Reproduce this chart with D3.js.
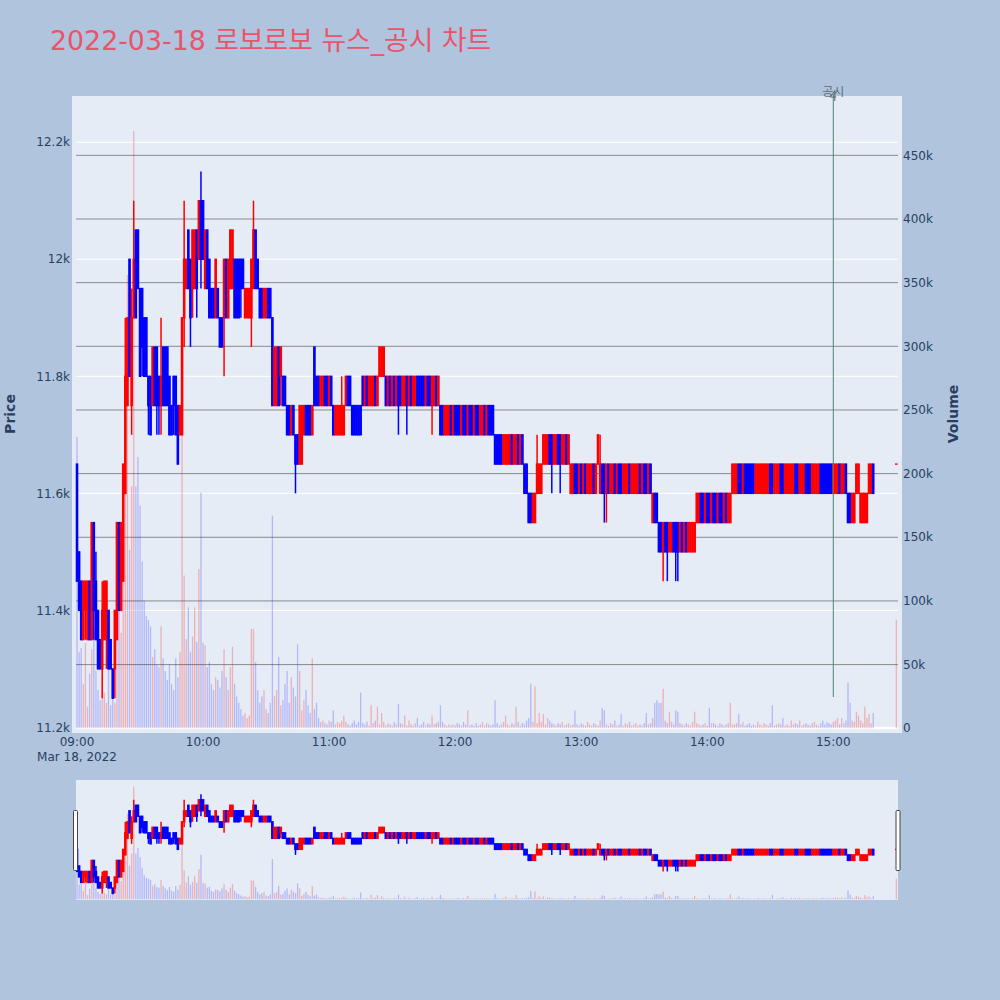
<!DOCTYPE html>
<html><head><meta charset="utf-8">
<script src="https://cdn.jsdelivr.net/npm/d3@7"></script>
<style>
html,body{margin:0;padding:0;background:#b0c4de;}
svg{display:block;font-family:"DejaVu Sans","Noto Sans CJK KR",sans-serif;}
</style></head><body>
<svg id="chart" width="1000" height="1000"></svg>
<script>
// ---------------- DATA ----------------
const titleText = "2022-03-18 로보로보 뉴스_공시 차트";
const sessionDate = "2022-03-18";
const sessionStart = "09:00";   // first 1-minute candle; each following value is the next minute

const open = [
11650,11500,11450,11350,11400,11350,11450,11350,11550,11450,
11400,11350,11300,11350,11350,11400,11350,11300,11300,11350,
11550,11400,11450,11600,11750,12000,11750,11900,12050,12050,
11950,11950,11900,11900,11800,11800,11750,11850,11850,11800,
11750,11850,11850,11850,11800,11750,11800,11800,11750,11700,
11700,11900,11950,12050,12000,11950,11950,12050,12000,12100,
12100,11950,12050,12000,11950,11950,11900,11950,11900,11900,
11900,12000,11900,11950,11950,12000,12000,12000,12000,12000,
11900,11900,11900,11900,11950,12050,12000,11950,11950,11900,
11900,11950,11950,11900,11750,11750,11850,11800,11800,11800,
11750,11750,11700,11750,11700,11700,11650,11650,11700,11750,
11750,11750,11700,11850,11800,11800,11750,11750,
11800,11800,11750,11800,11750,11700,11700,11700,11700,11700,
11750,11800,11800,11750,11750,11750,11750,11750,11800,11750,
11800,11750,11750,11750,11800,11750,11800,11800,11800,11800,
11750,11800,11750,11800,11750,11800,11800,11750,11750,11800,
11750,11800,11750,11750,11800,11800,11800,11800,11750,11800,
11800,11750,11750,11800,11750,11750,11750,11700,11700,11700,
11750,11700,11750,11750,11750,11700,11750,11750,11700,11750,
11750,11700,11750,11750,11700,11700,11750,11700,11750,11750,
11750,11700,11700,11700,11700,11650,11650,11650,11650,11700,
11650,11650,11700,11650,11700,11650,11650,11600,11600,11550,
11550,11600,11600,11600,11650,11650,11650,11700,11700,11650,
11650,11700,11700,11650,11650,11700,11650,11600,11600,11650,
11650,11600,11650,11600,11650,11600,11600,11600,11650,11600,
11650,11600,11650,11650,11600,11650,11600,11600,11650,11600,
11650,11650,11600,11600,11600,11650,11600,11600,11600,11600,
11650,11600,11650,11650,11600,11650,11550,11600,11600,11550,
11550,11500,11550,11550,11500,11500,11550,11550,11550,11500,
11550,11500,11550,11500,11500,11500,11500,11550,11550,11600,
11600,11550,11600,11600,11550,11600,11600,11550,11600,11600,
11550,11600,11550,11550,11600,11600,11600,11650,11650,11600,
11650,11650,11650,11650,11650,11600,11600,11600,11600,11600,
11600,11600,11650,11650,11600,11600,11600,11650,11650,11600,
11600,11600,11600,11600,11650,11650,11600,11600,11600,11650,
11650,11650,11600,11600,11600,11600,11650,11650,11650,11650,
11650,11650,11600,11600,11600,11650,11600,11600,11650,11600,
11600,11550,11550,11600,11600,11550,11550,11550,11550,11600,11600,11650
];
const high = [
11650,11500,11450,11450,11450,11450,11450,11550,11550,11500,
11400,11350,11450,11450,11450,11400,11350,11300,11400,11550,
11550,11550,11650,11900,11900,12000,11950,12100,12050,12050,
11950,11950,11900,11900,11800,11800,11850,11850,11850,11800,
11900,11850,11850,11850,11800,11750,11800,11800,11750,11750,
11900,12100,12000,12050,12000,12050,12050,12050,12100,12150,
12100,12050,12050,12000,11950,11950,12000,11950,11900,11900,
12000,12000,12000,12050,12050,12000,12000,12000,12000,12000,
11950,11950,11950,12000,12100,12050,12000,11950,11950,11950,
11950,11950,11950,11900,11850,11850,11850,11850,11800,11800,
11750,11750,11750,11750,11700,11700,11750,11750,11750,11750,
11750,11750,11750,11850,11800,11800,11800,11800,
11800,11800,11800,11800,11750,11750,11750,11750,11800,11750,
11800,11800,11800,11750,11750,11750,11750,11750,11800,11800,
11800,11800,11800,11800,11800,11800,11850,11850,11850,11800,
11800,11800,11800,11800,11800,11800,11800,11800,11800,11800,
11800,11800,11800,11800,11800,11800,11800,11800,11800,11800,
11800,11800,11800,11800,11800,11750,11750,11750,11750,11750,
11750,11750,11750,11750,11750,11750,11750,11750,11750,11750,
11750,11750,11750,11750,11750,11750,11750,11750,11750,11750,
11750,11700,11700,11700,11700,11700,11700,11700,11700,11700,
11700,11700,11700,11700,11700,11650,11650,11600,11600,11600,
11600,11700,11650,11650,11700,11700,11700,11700,11700,11700,
11700,11700,11700,11700,11700,11700,11700,11650,11650,11650,
11650,11650,11650,11650,11650,11650,11650,11650,11650,11650,
11700,11700,11650,11650,11650,11650,11650,11650,11650,11650,
11650,11650,11650,11650,11650,11650,11650,11650,11650,11650,
11650,11650,11650,11650,11650,11650,11600,11600,11600,11550,
11550,11550,11550,11550,11550,11550,11550,11550,11550,11550,
11550,11550,11550,11550,11550,11550,11550,11600,11600,11600,
11600,11600,11600,11600,11600,11600,11600,11600,11600,11600,
11600,11600,11600,11600,11650,11650,11650,11650,11650,11650,
11650,11650,11650,11650,11650,11650,11650,11650,11650,11650,
11650,11650,11650,11650,11650,11650,11650,11650,11650,11650,
11650,11650,11650,11650,11650,11650,11650,11650,11650,11650,
11650,11650,11650,11650,11650,11650,11650,11650,11650,11650,
11650,11650,11650,11650,11650,11650,11650,11650,11650,11600,
11600,11600,11600,11650,11650,11600,11600,11600,11600,11650,11650,11650
];
const low = [
11450,11400,11350,11350,11350,11350,11350,11350,11350,11350,
11300,11300,11250,11350,11300,11300,11300,11250,11250,11350,
11400,11400,11450,11600,11750,11800,11700,11900,11900,11950,
11800,11800,11800,11800,11700,11700,11750,11750,11700,11700,
11700,11750,11750,11750,11700,11700,11700,11700,11650,11700,
11700,11850,11950,11950,11850,11900,11950,11900,12000,11950,
12000,11950,11950,11900,11900,11900,11900,11900,11850,11850,
11800,11900,11900,11950,11950,11900,11900,11900,11900,11950,
11900,11900,11900,11850,11950,11950,11950,11900,11900,11900,
11900,11900,11900,11750,11750,11750,11750,11750,11750,11750,
11700,11700,11700,11700,11600,11650,11650,11650,11700,11700,
11700,11700,11700,11750,11750,11750,11750,11750,
11750,11750,11750,11750,11700,11700,11700,11700,11700,11700,
11750,11750,11750,11700,11700,11700,11700,11700,11750,11750,
11750,11750,11750,11750,11750,11750,11800,11800,11800,11750,
11750,11750,11750,11750,11750,11700,11750,11750,11750,11700,
11750,11750,11750,11750,11750,11750,11750,11750,11750,11750,
11750,11700,11750,11750,11750,11700,11700,11700,11700,11700,
11700,11700,11700,11700,11700,11700,11700,11700,11700,11700,
11700,11700,11700,11700,11700,11700,11700,11700,11700,11700,
11700,11650,11650,11650,11650,11650,11650,11650,11650,11650,
11650,11650,11650,11650,11650,11600,11600,11550,11550,11550,
11550,11600,11600,11600,11650,11650,11650,11650,11600,11650,
11650,11650,11600,11650,11650,11650,11650,11600,11600,11600,
11600,11600,11600,11600,11600,11600,11600,11600,11600,11600,
11650,11600,11600,11550,11550,11600,11600,11600,11600,11600,
11600,11600,11600,11600,11600,11600,11600,11600,11600,11600,
11600,11600,11600,11600,11600,11600,11550,11550,11550,11500,
11500,11450,11500,11450,11500,11500,11500,11450,11450,11500,
11500,11500,11500,11500,11500,11500,11500,11550,11550,11550,
11550,11550,11550,11550,11550,11550,11550,11550,11550,11550,
11550,11550,11550,11550,11600,11600,11600,11600,11600,11600,
11600,11600,11600,11600,11600,11600,11600,11600,11600,11600,
11600,11600,11600,11600,11600,11600,11600,11600,11600,11600,
11600,11600,11600,11600,11600,11600,11600,11600,11600,11600,
11600,11600,11600,11600,11600,11600,11600,11600,11600,11600,
11600,11600,11600,11600,11600,11600,11600,11600,11600,11550,
11550,11550,11550,11600,11600,11550,11550,11550,11550,11600,11600,11600
];
const close = [
11450,11400,11350,11450,11450,11450,11350,11550,11400,11350,
11300,11300,11400,11450,11450,11300,11300,11250,11400,11550,
11400,11550,11650,11800,11900,11800,11900,12000,11900,11950,
11800,11850,11800,11800,11750,11700,11850,11750,11750,11750,
11800,11750,11750,11750,11700,11700,11750,11700,11650,11750,
11900,12000,12000,11950,11900,12050,12050,11950,12100,12000,
12000,12050,11950,11900,11900,11900,12000,11900,11850,11850,
12000,11900,12000,12050,12050,11900,11900,11900,11950,11950,
11950,11950,11950,12000,12050,11950,11950,11900,11900,11950,
11950,11900,11900,11750,11850,11850,11750,11850,11750,11750,
11700,11700,11750,11700,11650,11650,11750,11750,11750,11700,
11700,11700,11750,11750,11750,11750,11800,11800,
11750,11750,11800,11750,11700,11750,11750,11750,11750,11750,
11800,11750,11750,11700,11700,11700,11700,11700,11750,11800,
11750,11800,11800,11800,11750,11800,11850,11850,11850,11750,
11800,11750,11800,11750,11800,11750,11750,11800,11800,11750,
11800,11750,11800,11800,11750,11750,11750,11750,11800,11750,
11750,11800,11800,11750,11800,11700,11700,11750,11750,11750,
11700,11750,11700,11700,11700,11750,11700,11700,11750,11700,
11700,11750,11700,11700,11750,11750,11700,11750,11700,11700,
11700,11650,11650,11650,11650,11700,11700,11700,11700,11650,
11700,11700,11650,11700,11650,11600,11600,11550,11550,11600,
11600,11650,11650,11650,11700,11700,11700,11650,11650,11700,
11700,11650,11650,11700,11700,11650,11700,11650,11650,11600,
11600,11650,11600,11650,11600,11650,11650,11650,11600,11650,
11700,11650,11600,11600,11650,11600,11650,11650,11600,11650,
11600,11600,11650,11650,11650,11600,11650,11650,11650,11650,
11600,11650,11600,11600,11650,11600,11600,11550,11550,11500,
11500,11550,11500,11500,11550,11550,11500,11500,11500,11550,
11500,11550,11500,11550,11550,11550,11550,11600,11600,11550,
11550,11600,11550,11550,11600,11550,11550,11600,11550,11550,
11600,11550,11600,11600,11650,11650,11650,11600,11600,11650,
11600,11600,11600,11600,11600,11650,11650,11650,11650,11650,
11650,11650,11600,11600,11650,11650,11650,11600,11600,11650,
11650,11650,11650,11650,11600,11600,11650,11650,11650,11600,
11600,11600,11650,11650,11650,11650,11600,11600,11600,11600,
11600,11600,11650,11650,11650,11600,11650,11650,11600,11550,
11550,11600,11600,11650,11650,11600,11600,11600,11600,11650,11650,11600
];
const volume = [
229000,60000,63000,35000,67000,17000,43000,62000,78000,45000,
30000,22000,40000,28000,20000,58000,18000,35000,20000,70000,
92000,75000,160000,320000,356000,140000,190000,469000,190000,213000,
175000,131000,100000,88000,85000,80000,56000,62000,50000,48000,
80000,55000,45000,38000,50000,35000,30000,55000,40000,60000,
230000,120000,70000,95000,60000,72000,95000,68000,125000,185000,
67000,65000,48000,52000,35000,30000,40000,38000,32000,45000,
62000,40000,30000,48000,64000,35000,25000,20000,15000,10000,
12000,8000,10000,78000,78000,52000,30000,20000,25000,30000,
15000,12000,20000,167000,25000,30000,56000,18000,22000,35000,
45000,20000,40000,32000,25000,66000,45000,14000,22000,30000,
18000,12000,55000,15000,20000,8000,5000,6000,
4000,3000,6000,5000,14000,3000,5000,4000,6000,10000,
5000,3000,2000,4000,6000,3000,5000,28000,4000,3000,
5000,2000,18000,4000,6000,17000,3000,12000,5000,2000,
4000,3000,2000,5000,3000,19000,4000,3000,10000,2000,
6000,3000,2000,4000,8000,2000,3000,5000,2000,4000,
3000,10000,3000,4000,5000,18000,5000,3000,2000,3000,
2000,3000,2000,4000,3000,2000,5000,3000,14000,2000,
3000,2000,4000,2000,3000,5000,2000,4000,3000,2000,
3000,22000,4000,2000,3000,5000,10000,3000,2000,4000,
3000,17000,5000,2000,4000,3000,6000,8000,35000,5000,
33000,4000,12000,5000,11000,3000,8000,6000,4000,3000,
2000,4000,3000,5000,2000,3000,4000,2000,3000,14000,
3000,2000,4000,3000,2000,5000,3000,2000,4000,3000,
2000,6000,16000,14000,3000,2000,4000,3000,6000,2000,
3000,11000,2000,4000,3000,5000,2000,3000,4000,2000,
3000,2000,4000,12000,3000,4000,8000,20000,22000,20000,
20000,31000,6000,4000,13000,5000,3000,14000,13000,4000,
3000,2000,4000,3000,2000,5000,13000,4000,3000,2000,
3000,4000,2000,16000,4000,4000,3000,2000,4000,3000,
2000,3000,4000,20000,3000,3000,4000,11000,3000,5000,
2000,3000,4000,2000,3000,2000,5000,3000,2000,4000,
3000,2000,4000,18000,2000,3000,4000,3000,8000,2000,
3000,2000,6000,3000,4000,3000,6000,2000,3000,4000,
3000,2000,4000,5000,3000,2000,4000,6000,3000,5000,
4000,3000,5000,6000,8000,3000,8000,4000,6000,36000,
20000,6000,5000,13000,10000,6000,4000,17000,8000,11000,4000,12000
];
// closing single-price auction
const auctionTime = ["15:30"];
const auctionOpen = [11650];
const auctionHigh = [11650];
const auctionLow = [11650];
const auctionClose = [11650];
const auctionVolume = [85000];

const priceTicks = [11200, 11400, 11600, 11800, 12000, 12200];
const volumeTicks = [0, 50000, 100000, 150000, 200000, 250000, 300000, 350000, 400000, 450000];
const hourTicks = ["09:00", "10:00", "11:00", "12:00", "13:00", "14:00", "15:00"];
const dateLabel = "Mar 18, 2022";
const eventTime = "15:00";
const eventLabel = "공시";

// ---------------- CHART ----------------
const svg = d3.select("#chart");
const parseT = d3.timeParse("%Y-%m-%d %H:%M");
const t0 = parseT(sessionDate + " " + sessionStart);
const rows = open.map((o, i) => ({t: d3.timeMinute.offset(t0, i), o, h: high[i], l: low[i], c: close[i], v: volume[i]}));
auctionTime.forEach((s, j) => rows.push({t: parseT(sessionDate + " " + s), o: auctionOpen[j], h: auctionHigh[j], l: auctionLow[j], c: auctionClose[j], v: auctionVolume[j]}));
const colorOf = d => d.c < d.o ? "blue" : "red";

svg.append("rect").attr("width", 1000).attr("height", 1000).attr("fill", "#b0c4de");

const x = d3.scaleTime()
  .domain([d3.timeSecond.offset(t0, -29), d3.timeSecond.offset(t0, 390 * 60 + 48)])
  .range([76, 898]);
const yP = d3.scaleLinear().domain([11191, 12279]).range([732.7, 96]);
const yV = d3.scaleLinear().domain([-3500, 496600]).range([732.7, 96]);

// plot background
svg.append("rect").attr("x", 72).attr("y", 96).attr("width", 830).attr("height", 637).attr("fill", "#e5ecf6");

// gridlines
const grid = svg.append("g");
grid.selectAll(".gp").data(priceTicks).join("line")
  .attr("x1", 76).attr("x2", 898).attr("y1", d => yP(d)).attr("y2", d => yP(d))
  .attr("stroke", "#fff").attr("stroke-width", 1);
grid.selectAll(".gv").data(volumeTicks.filter(d => d > 0)).join("line")
  .attr("x1", 76).attr("x2", 898).attr("y1", d => yV(d)).attr("y2", d => yV(d))
  .attr("stroke", "#8a8a8a").attr("stroke-width", 1);
grid.append("line").attr("x1", 76).attr("x2", 898).attr("y1", yV(0)).attr("y2", yV(0))
  .attr("stroke", "#fff").attr("stroke-width", 2);

const defs = svg.append("defs");
defs.append("clipPath").attr("id", "clipMain").append("rect").attr("x", 72).attr("y", 96).attr("width", 830).attr("height", 637);
defs.append("clipPath").attr("id", "clipSlider").append("rect").attr("x", 76).attr("y", 780).attr("width", 822).attr("height", 120);

function drawSeries(g, yPrice, yVol) {
  // candles
  const cg = g.append("g");
  cg.selectAll("line").data(rows).join("line")
    .attr("x1", d => x(d.t)).attr("x2", d => x(d.t))
    .attr("y1", d => yPrice(d.h)).attr("y2", d => yPrice(d.l))
    .attr("stroke", colorOf).attr("stroke-width", 1.5);
  cg.selectAll("rect").data(rows).join("rect")
    .attr("x", d => x(d.t) - 0.6).attr("width", 1.2)
    .attr("y", d => yPrice(Math.max(d.o, d.c)))
    .attr("height", d => Math.max(0.01, yPrice(Math.min(d.o, d.c)) - yPrice(Math.max(d.o, d.c))))
    .attr("fill", colorOf).attr("stroke", colorOf).attr("stroke-width", 1.4);
  // volume bars (overlaid axis, semi-transparent)
  const vg = g.append("g");
  vg.selectAll("rect").data(rows).join("rect")
    .attr("x", d => x(d.t) - 0.65).attr("width", 1.3)
    .attr("y", d => yVol(d.v)).attr("height", d => yVol(0) - yVol(d.v))
    .attr("fill", d => colorOf(d) === "red" ? "rgba(255,0,0,0.25)" : "rgba(0,0,255,0.22)");
}

const mainG = svg.append("g").attr("clip-path", "url(#clipMain)");
drawSeries(mainG, yP, yV);

// event vertical line + annotation
const ex = x(parseT(sessionDate + " " + eventTime));
svg.append("line").attr("x1", ex).attr("x2", ex).attr("y1", 94).attr("y2", 697)
  .attr("stroke", "#4a8772").attr("stroke-width", 1);
svg.append("path")
  .attr("d", `M${ex + 2},90 L${ex - 3},97 L${ex + 3},97 M${ex + 1.5},91 L${ex + 1.5},101`)
  .attr("fill", "none").attr("stroke", "#5b6676").attr("stroke-width", 1);
svg.append("text").attr("x", ex).attr("y", 96).attr("text-anchor", "middle")
  .attr("font-size", 12).attr("fill", "#5f6b7a").text(eventLabel);

// axes labels
const tickColor = "#2a3f5f";
const fmt = d3.format("~s");
svg.append("g").selectAll("text").data(priceTicks).join("text")
  .attr("x", 70).attr("y", d => yP(d)).attr("dy", "0.35em").attr("text-anchor", "end")
  .attr("font-size", 12).attr("fill", tickColor).text(d => fmt(d));
svg.append("g").selectAll("text").data(volumeTicks).join("text")
  .attr("x", 903).attr("y", d => yV(d)).attr("dy", "0.35em").attr("text-anchor", "start")
  .attr("font-size", 12).attr("fill", tickColor).text(d => fmt(d));
svg.append("g").selectAll("text").data(hourTicks).join("text")
  .attr("x", d => x(parseT(sessionDate + " " + d))).attr("y", 746).attr("text-anchor", "middle")
  .attr("font-size", 12).attr("fill", tickColor).text(d => d);
svg.append("text").attr("x", x(t0)).attr("y", 761).attr("text-anchor", "middle")
  .attr("font-size", 12).attr("fill", tickColor).text(dateLabel);

svg.append("text").attr("transform", "translate(15,414) rotate(-90)").attr("text-anchor", "middle")
  .attr("font-size", 14).attr("font-weight", "bold").attr("fill", tickColor).text("Price");
svg.append("text").attr("transform", "translate(958,414) rotate(-90)").attr("text-anchor", "middle")
  .attr("font-size", 14).attr("font-weight", "bold").attr("fill", tickColor).text("Volume");

// title
svg.append("text").attr("x", 50).attr("y", 50).attr("font-size", 26.8).attr("fill", "#e9546b").text(titleText);

// range slider
svg.append("rect").attr("x", 76).attr("y", 780).attr("width", 822).attr("height", 120).attr("fill", "#e5ecf6");
const ySP = d3.scaleLinear().domain(yP.domain()).range([900, 780]);
const ySV = d3.scaleLinear().domain(yV.domain()).range([900, 780]);
const sliderG = svg.append("g").attr("clip-path", "url(#clipSlider)");
drawSeries(sliderG, ySP, ySV);
[73.5, 896].forEach(hx => {
  svg.append("rect").attr("x", hx).attr("y", 810.5).attr("width", 4).attr("height", 60)
    .attr("rx", 1).attr("fill", "#fff").attr("stroke", "#444").attr("stroke-width", 1);
});
</script>
</body></html>
